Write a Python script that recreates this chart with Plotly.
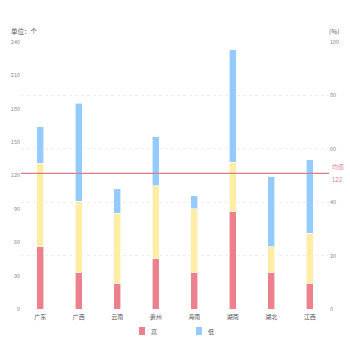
import plotly.graph_objects as go

provinces = ["广东", "广西", "云南", "贵州", "海南", "湖南", "湖北", "江西"]
high = [56, 33, 23, 45, 33, 88, 33, 23]
mid = [75, 64, 63, 66, 57, 44, 23, 45]
low = [33, 88, 22, 44, 12, 101, 63, 66]
mean_value = 122

left_ticks = [0, 30, 60, 90, 120, 150, 180, 210, 240]
right_ticks = [0, 20, 40, 60, 80, 100]

FONT = "Noto Sans CJK SC, Noto Sans, sans-serif"
RED = "#EC808D"
YELLOW = "#FFEDA6"
BLUE = "#93CBFF"
LINE_RED = "#E07C86"

W, H = 350, 350
ML, MR, MT, MB = 21, 21, 42, 41

series = [("高", high, RED, True), ("中", mid, YELLOW, False), ("低", low, BLUE, True)]

fig = go.Figure()
for name, vals, color, show in series:
    fig.add_trace(go.Bar(
        x=provinces, y=vals, name=name, showlegend=False,
        marker=dict(color=color, line=dict(color="rgba(255,255,255,0.6)", width=1)),
        yaxis="y",
    ))

# invisible helper trace so the percentage axis is drawn
fig.add_trace(go.Scatter(x=provinces, y=[None] * len(provinces), yaxis="y2",
                         showlegend=False, hoverinfo="skip"))

fig.add_shape(type="line", xref="paper", yref="y", x0=0, x1=1,
              y0=mean_value, y1=mean_value,
              line=dict(color=LINE_RED, width=1.2))

fig.add_annotation(xref="paper", yref="y", x=1.0, y=mean_value, text="均值",
                   showarrow=False, xanchor="left", yanchor="bottom", xshift=1,
                   font=dict(size=6, color=LINE_RED, family=FONT))
fig.add_annotation(xref="paper", yref="y", x=1.0, y=mean_value, text=str(mean_value),
                   showarrow=False, xanchor="left", yanchor="top", xshift=1,
                   font=dict(size=6, color=LINE_RED, family=FONT))

fig.add_annotation(xref="paper", yref="paper", x=0, y=1, text="单位：个",
                   showarrow=False, xanchor="left", yanchor="bottom", xshift=-12, yshift=4,
                   font=dict(size=6.5, color="#555", family=FONT))
fig.add_annotation(xref="paper", yref="paper", x=1, y=1, text="(%)",
                   showarrow=False, xanchor="right", yanchor="bottom", xshift=12, yshift=4,
                   font=dict(size=6.5, color="#555", family=FONT))

# compact legend below the plot: small swatch followed by its label
pw, ph = W - ML - MR, H - MT - MB
def px_to_paper(xp, yp):
    return (xp - ML) / pw, (H - MB - yp) / ph

legend_x = [139, 196]
for lx, (name, _, color, show) in zip(legend_x, [s for s in series if s[3]]):
    x0, y0 = px_to_paper(lx, 335)
    x1, y1 = px_to_paper(lx + 6, 327)
    fig.add_shape(type="rect", xref="paper", yref="paper", x0=x0, x1=x1, y0=y0, y1=y1,
                  line=dict(width=0), fillcolor=color)
    tx, ty = px_to_paper(lx + 10, 331)
    fig.add_annotation(xref="paper", yref="paper", x=tx, y=ty, text=name,
                       showarrow=False, xanchor="left", yanchor="middle",
                       font=dict(size=6, color="#555", family=FONT))

fig.update_layout(
    width=W, height=H,
    margin=dict(l=ML, r=MR, t=MT, b=MB, autoexpand=False),
    paper_bgcolor="white", plot_bgcolor="white",
    barmode="stack", bargap=0.82,
    font=dict(family=FONT, size=6, color="#888"),
    xaxis=dict(showgrid=False, showline=False, ticks="", ticklabelstandoff=3,
               tickfont=dict(size=6, color="#555", family=FONT)),
    yaxis=dict(range=[0, 240], tickvals=left_ticks, showgrid=False, zeroline=False,
               showline=False, ticks="", tickfont=dict(size=5.5, color="#888")),
    yaxis2=dict(range=[0, 100], tickvals=right_ticks, overlaying="y", side="right",
                showgrid=True, gridcolor="#eeeeee", griddash="dot", gridwidth=1,
                zeroline=False, showline=False, ticks="",
                tickfont=dict(size=5.5, color="#888")),
    showlegend=False,
)

fig.write_html("out.html")
